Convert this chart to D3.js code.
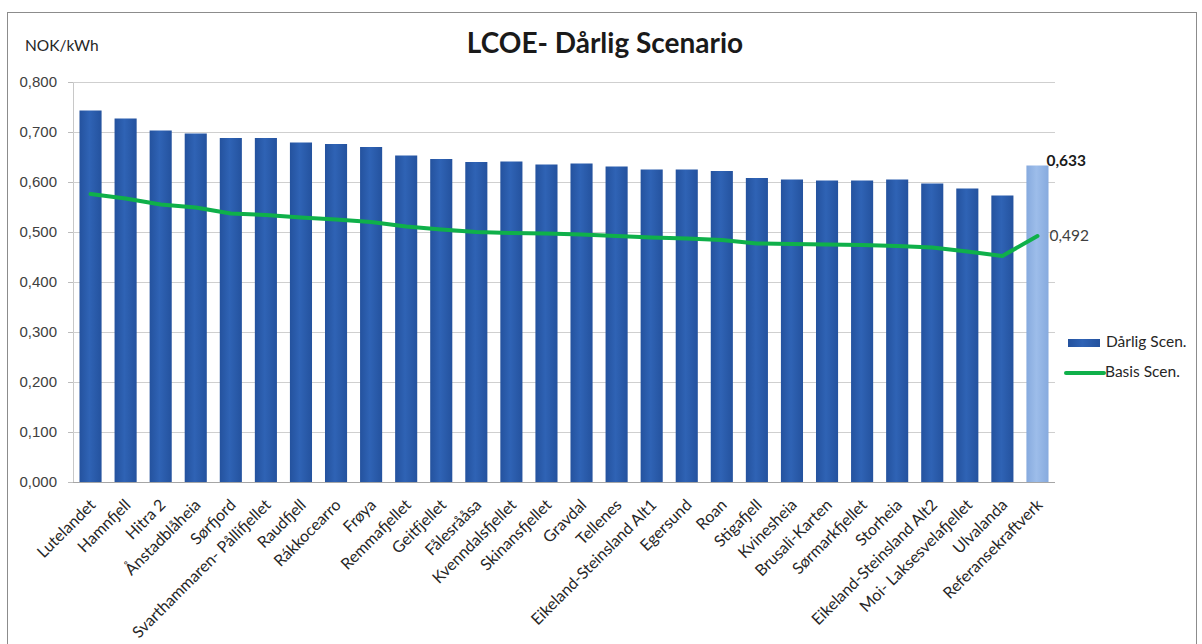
<!DOCTYPE html>
<html>
<head>
<meta charset="utf-8">
<script src="https://cdn.jsdelivr.net/npm/d3@7"></script>
<style>
  html, body { margin: 0; padding: 0; background: #ffffff; }
  svg { display: block; font-family: Lato, "Open Sans", sans-serif; }
</style>
</head>
<body>
<svg id="chart" width="1202" height="644"></svg>
<script>
// LCOE per wind farm, bad scenario (bars) vs base scenario (line), NOK/kWh
const categories = [
  "Lutelandet", "Hamnfjell", "Hitra 2", "Ånstadblåheia", "Sørfjord",
  "Svarthammaren- Pållifjellet", "Raudfjell", "Rákkocearro", "Frøya",
  "Remmafjellet", "Geitfjellet", "Fålesrååsa", "Kvenndalsfjellet",
  "Skinansfjellet", "Gravdal", "Tellenes", "Eikeland-Steinsland Alt1",
  "Egersund", "Roan", "Stigafjell", "Kvinesheia", "Brusali-Karten",
  "Sørmarkfjellet", "Storheia", "Eikeland-Steinsland Alt2",
  "Moi- Laksesvelafjellet", "Ulvalanda", "Referansekraftverk"
];
const darligScen = [
  0.743, 0.727, 0.703, 0.697, 0.688, 0.688, 0.679, 0.676, 0.670,
  0.653, 0.646, 0.640, 0.641, 0.635, 0.637, 0.631, 0.625, 0.625,
  0.622, 0.608, 0.605, 0.603, 0.603, 0.605, 0.597, 0.587, 0.573, 0.633
];
const basisScen = [
  0.576, 0.567, 0.555, 0.549, 0.537, 0.534, 0.529, 0.525, 0.520,
  0.511, 0.505, 0.500, 0.498, 0.497, 0.495, 0.492, 0.489, 0.487,
  0.484, 0.477, 0.476, 0.475, 0.474, 0.472, 0.469, 0.461, 0.452, 0.492
];
const yTicks = [0, 0.1, 0.2, 0.3, 0.4, 0.5, 0.6, 0.7, 0.8];
const seriesNames = ["Dårlig Scen.", "Basis Scen."];
const chartTitle = "LCOE- Dårlig Scenario";
const unitLabel = "NOK/kWh";
const highlighted = "Referansekraftverk";

const nb = d3.formatLocale({ decimal: ",", thousands: " ", grouping: [3], currency: ["", " kr"] });
const fmt = nb.format(".3f");

const svg = d3.select("#chart");
const plot = { left: 73, right: 1055, top: 82, bottom: 482 };

const x = d3.scaleBand()
  .domain(categories)
  .range([plot.left, plot.right])
  .paddingInner(0.37)
  .paddingOuter(0.185);

const y = d3.scaleLinear()
  .domain([0, 0.8])
  .range([plot.bottom, plot.top]);

// chart frame
svg.append("rect")
  .attr("x", 7.5).attr("y", 12.5)
  .attr("width", 1189).attr("height", 700)
  .attr("fill", "#ffffff")
  .attr("stroke", "#8c8c8c").attr("stroke-width", 1);

// gradient for the bars
const defs = svg.append("defs");
function barGradient(id, edge, mid) {
  const g = defs.append("linearGradient").attr("id", id)
    .attr("x1", "0%").attr("x2", "100%").attr("y1", "0%").attr("y2", "0%");
  g.append("stop").attr("offset", "0%").attr("stop-color", edge);
  g.append("stop").attr("offset", "45%").attr("stop-color", mid);
  g.append("stop").attr("offset", "100%").attr("stop-color", edge);
}
barGradient("barBlue", "#24529e", "#2f63b5");
barGradient("barLight", "#86aade", "#9dbdea");

// horizontal gridlines
const yAxis = d3.axisLeft(y)
  .tickValues(yTicks)
  .tickFormat(fmt)
  .tickSize(-(plot.right - plot.left))
  .tickPadding(16);

const gy = svg.append("g")
  .attr("transform", `translate(${plot.left},0)`)
  .call(yAxis);
gy.select(".domain").attr("stroke", "#c8c8c8");
gy.selectAll(".tick line").attr("stroke", "#cfcfcf").attr("stroke-width", 1);
gy.selectAll(".tick text")
  .attr("fill", "#404040")
  .style("font-size", "15px");

// small outer tick marks on the value axis
gy.selectAll(".tick").append("line")
  .attr("x1", -5).attr("x2", 0)
  .attr("stroke", "#bdbdbd");

// bars
svg.append("g").selectAll("rect")
  .data(categories)
  .join("rect")
  .attr("x", d => x(d))
  .attr("width", x.bandwidth())
  .attr("y", (d, i) => y(darligScen[i]))
  .attr("height", (d, i) => y(0) - y(darligScen[i]))
  .attr("fill", d => d === highlighted ? "url(#barLight)" : "url(#barBlue)");

// category baseline
svg.append("line")
  .attr("x1", plot.left).attr("x2", plot.right)
  .attr("y1", y(0) + 0.5).attr("y2", y(0) + 0.5)
  .attr("stroke", "#a6a6a6");

// base scenario line
const line = d3.line()
  .x((d, i) => x(categories[i]) + x.bandwidth() / 2)
  .y(d => y(d));

svg.append("path")
  .datum(basisScen)
  .attr("d", line)
  .attr("fill", "none")
  .attr("stroke", "#0fb04a")
  .attr("stroke-width", 4)
  .attr("stroke-linejoin", "round")
  .attr("stroke-linecap", "round");

// value labels on the reference plant
const last = categories.length - 1;
svg.append("text")
  .attr("x", x(categories[last]) + x.bandwidth() - 2)
  .attr("y", y(darligScen[last]) - 3)
  .attr("dominant-baseline", "middle")
  .attr("fill", "#1a1a1a")
  .style("font-size", "15.5px")
  .style("font-weight", "bold")
  .text(fmt(darligScen[last]));

svg.append("text")
  .attr("x", x(categories[last]) + x.bandwidth() + 1)
  .attr("y", y(basisScen[last]) + 1)
  .attr("dominant-baseline", "middle")
  .attr("fill", "#404040")
  .style("font-size", "15.5px")
  .text(fmt(basisScen[last]));

// category labels, rotated
svg.append("g").selectAll("text")
  .data(categories)
  .join("text")
  .attr("transform", d => `translate(${x(d) + x.bandwidth() / 2 + 6},${plot.bottom + 24}) rotate(-45)`)
  .attr("text-anchor", "end")
  .attr("fill", "#262626")
  .style("font-size", "16px")
  .text(d => d);

// title and unit
svg.append("text")
  .attr("x", 605).attr("y", 53)
  .attr("text-anchor", "middle")
  .attr("fill", "#1a1a1a")
  .style("font-size", "28px")
  .style("font-weight", "bold")
  .text(chartTitle);

svg.append("text")
  .attr("x", 25).attr("y", 51)
  .attr("fill", "#262626")
  .style("font-size", "15.5px")
  .text(unitLabel);

// legend
const legend = svg.append("g");
legend.append("rect")
  .attr("x", 1068).attr("y", 339)
  .attr("width", 32).attr("height", 8)
  .attr("fill", "url(#barBlue)");
legend.append("text")
  .attr("x", 1106).attr("y", 343)
  .attr("dominant-baseline", "middle")
  .attr("fill", "#262626")
  .style("font-size", "15.5px")
  .text(seriesNames[0]);
legend.append("line")
  .attr("x1", 1066).attr("x2", 1104)
  .attr("y1", 373).attr("y2", 373)
  .attr("stroke", "#0fb04a").attr("stroke-width", 4)
  .attr("stroke-linecap", "round");
legend.append("text")
  .attr("x", 1105).attr("y", 373)
  .attr("dominant-baseline", "middle")
  .attr("fill", "#262626")
  .style("font-size", "15.5px")
  .text(seriesNames[1]);
</script>
</body>
</html>
